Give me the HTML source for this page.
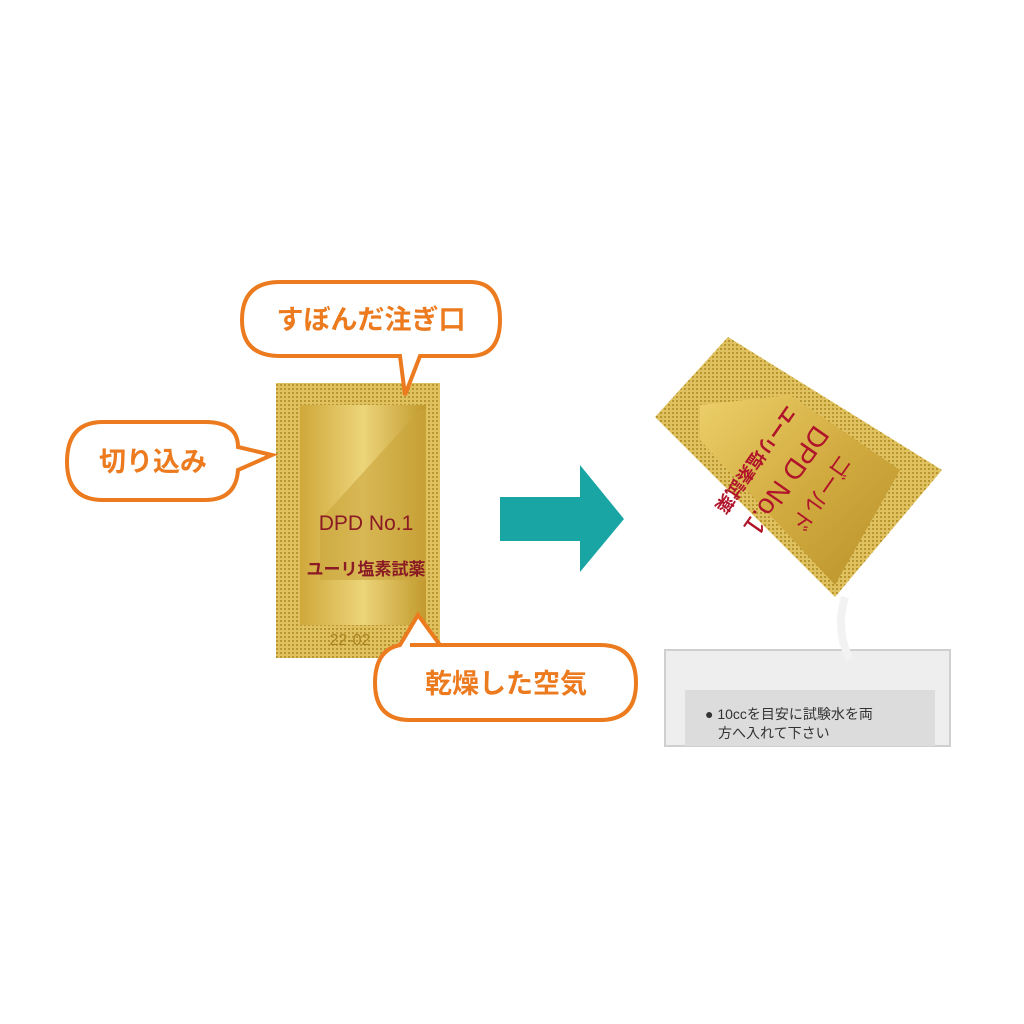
<!DOCTYPE html>
<html><head><meta charset="utf-8"><style>
html,body{margin:0;padding:0;background:#fff;}
body{width:1024px;height:1024px;position:relative;overflow:hidden;font-family:"Liberation Sans","Noto Sans CJK JP",sans-serif;}
.abs{position:absolute;}
</style></head><body>
<svg class="abs" style="left:0;top:0" width="1024" height="1024" viewBox="0 0 1024 1024">
<defs>
<linearGradient id="g1" x1="0" y1="0" x2="1" y2="1">
<stop offset="0" stop-color="#ecd06a"/><stop offset="0.5" stop-color="#d2ab40"/><stop offset="1" stop-color="#b8922a"/>
</linearGradient>
<linearGradient id="g2" x1="0" y1="0" x2="1" y2="0">
<stop offset="0" stop-color="#cfa83a"/><stop offset="0.5" stop-color="#ecd47a"/><stop offset="1" stop-color="#c29a2e"/>
</linearGradient>
<pattern id="dots" width="4" height="4" patternUnits="userSpaceOnUse"><rect width="4" height="4" fill="#e0c160"/><rect width="2" height="2" fill="#b8952e"/></pattern>
</defs>
<!-- left packet -->
<rect x="276" y="383" width="164" height="275" fill="url(#dots)"/>
<rect x="300" y="405" width="126" height="220" fill="url(#g2)"/>
<polygon points="320,520 420,410 426,410 426,580 320,580" fill="#c9a53c" opacity="0.6"/>
<text x="366" y="530" font-size="21" fill="#8a1a24" text-anchor="middle" font-family="Liberation Sans,sans-serif">DPD No.1</text>
<text x="366" y="575" font-size="17" fill="#8a1a24" text-anchor="middle" font-weight="bold" font-family="Liberation Sans,Noto Sans CJK JP,sans-serif">ユーリ塩素試薬</text>
<text x="350" y="645" font-size="16" fill="#a8841d" text-anchor="middle">22-02</text>
<!-- callouts -->
<g fill="#fff" stroke="#ec7a1e" stroke-width="4">
<path d="M280,282 H470 Q500,282 500,320 Q500,356 470,356 H420 L405,395 L400,356 H280 Q242,356 242,320 Q242,282 280,282Z"/>
<path d="M103,422 H205 Q238,422 238,447 L272,455 L238,470 Q236,500 205,500 H103 Q67,500 67,462 Q67,422 103,422Z"/>
<path d="M410,645 H600 Q636,645 636,683 Q636,720 600,720 H410 Q375,720 375,683 Q375,650 400,645 L418,615 L440,645Z"/>
</g>
<g fill="#ec7a1e" font-weight="bold" font-size="27" font-family="Liberation Sans,Noto Sans CJK JP,sans-serif" text-anchor="middle">
<text x="371" y="329">すぼんだ注ぎ口</text>
<text x="153" y="471">切り込み</text>
<text x="506" y="693">乾燥した空気</text>
</g>
<!-- arrow -->
<rect x="500" y="497" width="82" height="44" fill="#1aa5a5"/>
<polygon points="580,465 624,519 580,572" fill="#1aa5a5"/>
<!-- container -->
<rect x="665" y="650" width="285" height="96" fill="#eeeeee" stroke="#cfcfcf" stroke-width="2"/>
<rect x="685" y="690" width="250" height="56" fill="#dcdcdc"/>
<path d="M845,597 Q835,630 850,660" stroke="#f2f2f2" stroke-width="8" fill="none"/>
<text x="705" y="719" font-size="14" fill="#333" font-family="Liberation Sans,Noto Sans CJK JP,sans-serif">● 10ccを目安に試験水を両</text>
<text x="718" y="738" font-size="14" fill="#333" font-family="Liberation Sans,Noto Sans CJK JP,sans-serif">方へ入れて下さい</text>
<!-- right packet -->
<polygon points="728,337 942,470 835,597 655,417" fill="url(#dots)"/>
<polygon points="700,405 790,395 900,470 835,585 700,440" fill="url(#g1)"/>
<g transform="translate(785,480) rotate(125)" fill="#b0142a" font-family="Liberation Sans,Noto Sans CJK JP,sans-serif">
<text x="0" y="8" font-size="28" text-anchor="middle">DPD No.1</text>
<text x="0" y="42" font-size="18" text-anchor="middle" font-weight="bold">ユーリ塩素試薬</text>
<text x="-10" y="-30" font-size="22" text-anchor="middle">ゴールド</text>
</g>
</svg>
</body></html>
